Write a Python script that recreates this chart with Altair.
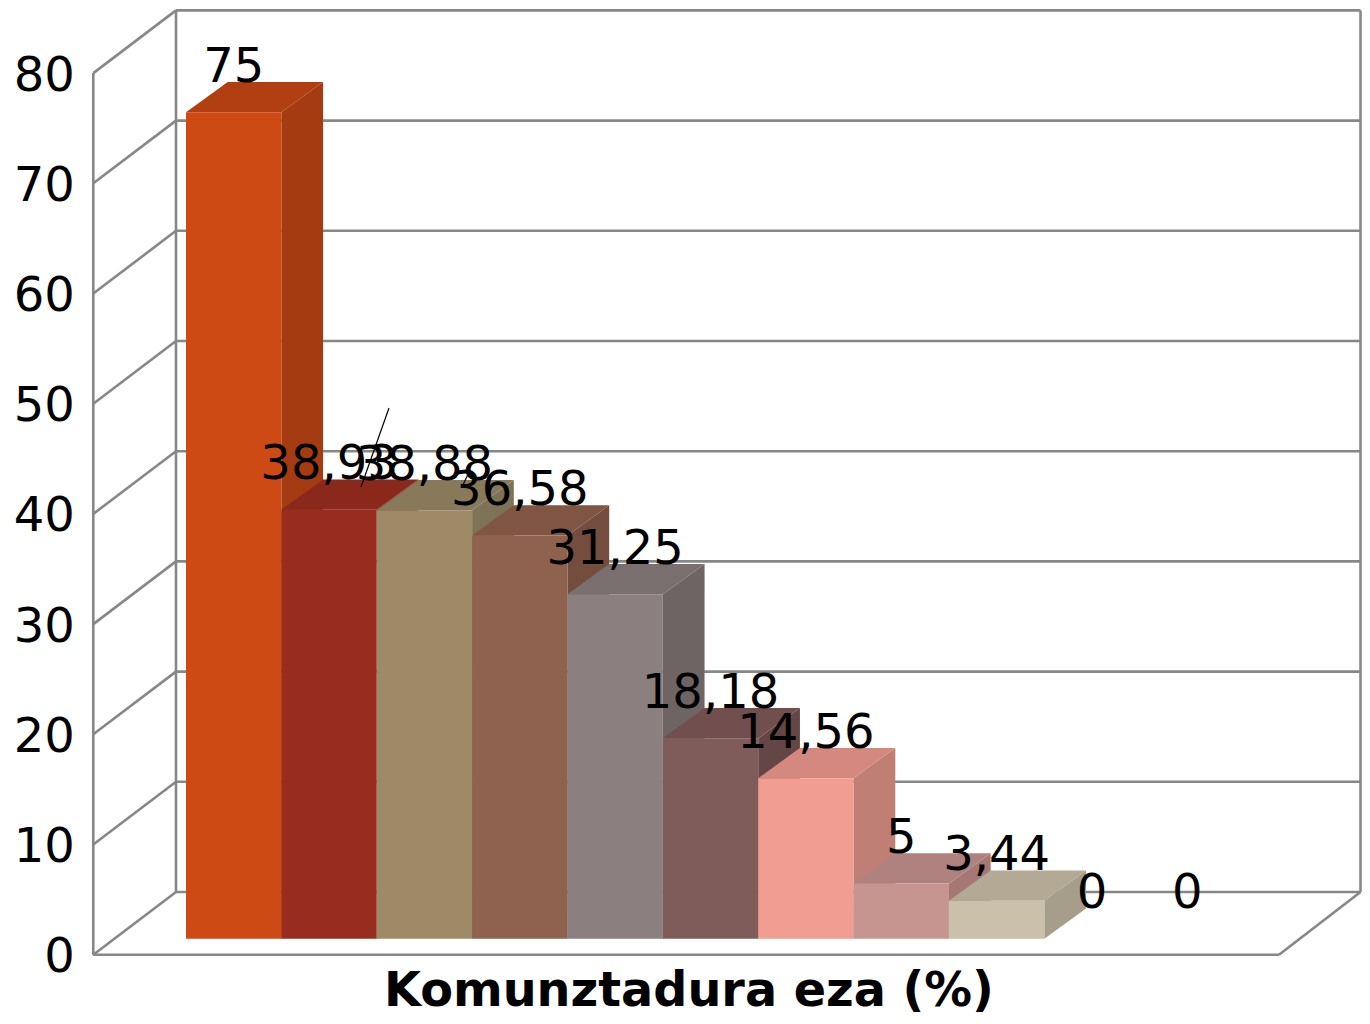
import altair as alt
import pandas as pd

labels = ["75", "38,93", "38,88", "36,58", "31,25", "18,18", "14,56", "5", "3,44", "0", "0"]
values = [75, 38.93, 38.88, 36.58, 31.25, 18.18, 14.56, 5, 3.44, 0, 0]
fronts = ["#CE4A14", "#982C1E", "#9F8A68", "#8F614F", "#8B7F7F", "#7F5B59", "#F29D92", "#C79590", "#CBC0AA", "#CBC0AA", "#CBC0AA"]
tops = ["#B23F12", "#8A281B", "#87795A", "#805544", "#7A6F6F", "#704F4E", "#D48880", "#AF8280", "#B3A994", "#B3A994", "#B3A994"]
sides = ["#A53B10", "#7D2418", "#7F7357", "#754D3F", "#6E6464", "#654646", "#C07F74", "#A57775", "#A69E8A", "#A69E8A", "#A69E8A"]
ticks = list(range(0, 90, 10))
title = "Komunztadura eza (%)"

# Projection geometry, in data units (1 x unit = one bar, 1 y unit = one percent)
PXX, PXY = 95.37, 11.02
BAR_DX, BAR_DY = 41.7 / PXX, 30.3 / PXY
FRONT_X, BACK_X = (93.3 - 186) / PXX, (176 - 186) / PXX
RIGHT_FRONT, RIGHT_BACK = (1279 - 186) / PXX, (1360.5 - 186) / PXX
FRONT_Y, BACK_Y = -16 / PXY, 46.7 / PXY
X_DOMAIN = [(8 - 186) / PXX, (1362 - 186) / PXX]
Y_DOMAIN = [-(1016 - 938.7) / PXY, (938.7 - 8) / PXY]

X = alt.Scale(domain=X_DOMAIN, nice=False, zero=False)
Y = alt.Scale(domain=Y_DOMAIN, nice=False, zero=False)
GRID = "#878787"
FONT = "DejaVu Sans"
FS = 48

# frame lines
rows = []
def seg(name, a, b):
    rows.append(dict(g=name, o=0, x=a[0], y=a[1]))
    rows.append(dict(g=name, o=1, x=b[0], y=b[1]))

for t in ticks:
    seg(f"back{t}", (BACK_X, BACK_Y + t), (RIGHT_BACK, BACK_Y + t))
    seg(f"left{t}", (FRONT_X, FRONT_Y + t), (BACK_X, BACK_Y + t))
top = ticks[-1]
seg("vf", (FRONT_X, FRONT_Y), (FRONT_X, FRONT_Y + top))
seg("vb", (BACK_X, BACK_Y), (BACK_X, BACK_Y + top))
seg("vr", (RIGHT_BACK, BACK_Y), (RIGHT_BACK, BACK_Y + top))
seg("floor", (FRONT_X, FRONT_Y), (RIGHT_FRONT, FRONT_Y))
seg("floor2", (RIGHT_FRONT, FRONT_Y), (RIGHT_BACK, BACK_Y))
frame = pd.DataFrame(rows)

# bar faces
side_rows, top_rows, front_rows = [], [], []
for i, v in enumerate(values):
    if v <= 0:
        continue
    l, r = float(i), float(i + 1)
    side_rows += [
        dict(b=i, fill=sides[i], x=r, y=0, y2=v),
        dict(b=i, fill=sides[i], x=r + BAR_DX, y=BAR_DY, y2=v + BAR_DY),
    ]
    top_rows += [
        dict(b=i, fill=tops[i], x=l, y=v, y2=v),
        dict(b=i, fill=tops[i], x=l + BAR_DX, y=v, y2=v + BAR_DY),
        dict(b=i, fill=tops[i], x=r, y=v, y2=v + BAR_DY),
        dict(b=i, fill=tops[i], x=r + BAR_DX, y=v + BAR_DY, y2=v + BAR_DY),
    ]
    front_rows += [dict(b=i, fill=fronts[i], x=l, x2=r, y=0, y2=v)]

def area(rows_):
    return alt.Chart(pd.DataFrame(rows_)).mark_area(opacity=1, interpolate="linear").encode(
        x=alt.X("x:Q", scale=X, axis=None),
        y=alt.Y("y:Q", scale=Y, axis=None),
        y2="y2:Q",
        color=alt.Color("fill:N", scale=None, legend=None),
        detail="b:N",
    )

frame_layer = alt.Chart(frame).mark_line(color=GRID, strokeWidth=2.6).encode(
    x=alt.X("x:Q", scale=X, axis=None),
    y=alt.Y("y:Q", scale=Y, axis=None),
    detail="g:N",
    order="o:Q",
)

front_layer = alt.Chart(pd.DataFrame(front_rows)).mark_rect().encode(
    x=alt.X("x:Q", scale=X, axis=None),
    x2="x2:Q",
    y=alt.Y("y:Q", scale=Y, axis=None),
    y2="y2:Q",
    color=alt.Color("fill:N", scale=None, legend=None),
)

label_df = pd.DataFrame(
    dict(t=labels,
         x=[i + 0.5 for i in range(len(labels))],
         y=[v + 30.4 / PXY for v in values])
)
label_layer = alt.Chart(label_df).mark_text(
    font=FONT, fontSize=FS, color="#000000", baseline="alphabetic", align="center"
).encode(
    x=alt.X("x:Q", scale=X, axis=None),
    y=alt.Y("y:Q", scale=Y, axis=None),
    text="t:N",
)

tick_df = pd.DataFrame(dict(t=[str(t) for t in ticks],
                            x=[FRONT_X - 18.5 / PXX] * len(ticks),
                            y=[FRONT_Y + t - 17.5 / PXY for t in ticks]))
tick_layer = alt.Chart(tick_df).mark_text(
    font=FONT, fontSize=FS, color="#000000", baseline="alphabetic", align="right"
).encode(
    x=alt.X("x:Q", scale=X, axis=None),
    y=alt.Y("y:Q", scale=Y, axis=None),
    text="t:N",
)

title_df = pd.DataFrame(dict(t=[title], x=[(689 - 186) / PXX], y=[-(1006 - 938.7) / PXY]))
title_layer = alt.Chart(title_df).mark_text(
    font=FONT, fontSize=47.7, fontWeight="bold", color="#000000", baseline="alphabetic", align="center"
).encode(
    x=alt.X("x:Q", scale=X, axis=None),
    y=alt.Y("y:Q", scale=Y, axis=None),
    text="t:N",
)

# leader lines of the two displaced data labels
leaders = []
for name, a, b in [
    ("a", ((361 - 186) / PXX, (938.7 - 487) / PXY), ((389 - 186) / PXX, (938.7 - 408) / PXY)),
    ("b", ((462 - 186) / PXX, (938.7 - 487) / PXY), ((470 - 186) / PXX, (938.7 - 470) / PXY)),
]:
    leaders.append(dict(g=name, x=a[0], y=a[1]))
    leaders.append(dict(g=name, x=b[0], y=b[1]))
leader_layer = alt.Chart(pd.DataFrame(leaders)).mark_line(color="#000000", strokeWidth=1.2).encode(
    x=alt.X("x:Q", scale=X, axis=None),
    y=alt.Y("y:Q", scale=Y, axis=None),
    detail="g:N",
)

chart = alt.layer(
    frame_layer, area(side_rows), area(top_rows), front_layer, leader_layer,
    label_layer, tick_layer, title_layer,
).properties(
    width=1354, height=1008, padding=0, autosize=alt.AutoSizeParams(type="none"),
).configure_view(stroke=None)

chart.save("out.html", embed_options={"renderer": "svg", "actions": False})
